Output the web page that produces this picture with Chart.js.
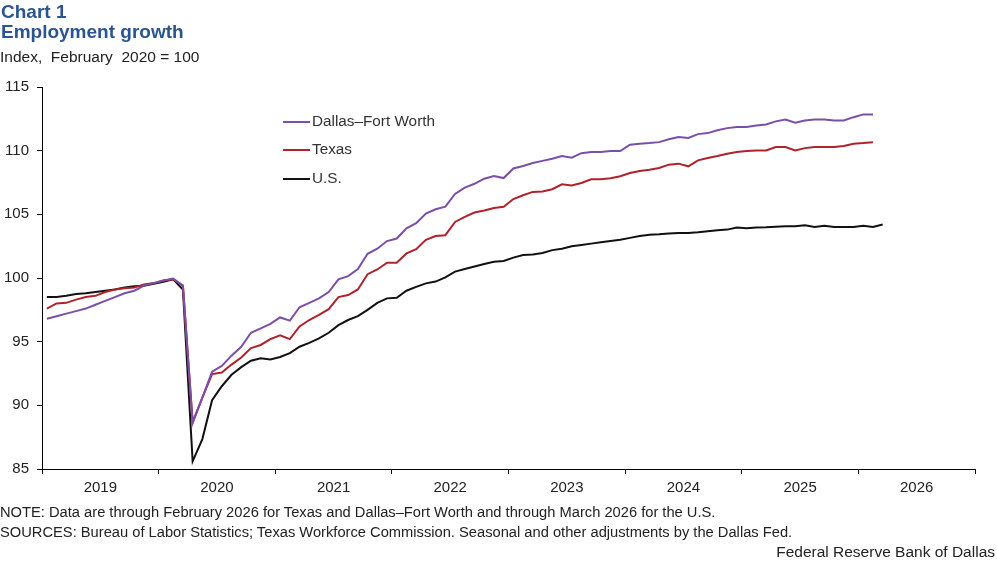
<!DOCTYPE html>
<html>
<head>
<meta charset="utf-8">
<script src="https://cdn.jsdelivr.net/npm/chart.js@4"></script>
<style>
  html, body { margin: 0; padding: 0; background: #fff; }
  body { width: 997px; height: 565px; position: relative; overflow: hidden; font-family: "Liberation Sans", Arial, sans-serif; color: #222; }
  #chart { position: absolute; left: 0; top: 0; }
  .t { position: absolute; white-space: nowrap; }
  .title { left: 1px; font-weight: bold; font-size: 19px; color: #2b5590; }
  .leg { position: absolute; left: 283px; font-size: 15.3px; color: #333; }
  .leg span { display: inline-block; width: 27px; height: 2px; vertical-align: middle; margin-right: 2px; }
</style>
</head>
<body>
<canvas id="chart" width="997" height="565"></canvas>
<div class="t title" style="top:1px">Chart 1</div>
<div class="t title" style="top:21px">Employment growth</div>
<div class="t" style="left:0; top:48px; font-size:15.5px">Index,&nbsp; February&nbsp; 2020 = 100</div>
<div id="legend"></div>
<div class="t" style="left:0; top:504px; font-size:14.7px">NOTE: Data are through February 2026 for Texas and Dallas–Fort Worth and through March 2026 for the U.S.</div>
<div class="t" style="left:0; top:524px; font-size:14.7px">SOURCES: Bureau of Labor Statistics; Texas Workforce Commission. Seasonal and other adjustments by the Dallas Fed.</div>
<div class="t" style="right:2px; top:543px; font-size:15.5px">Federal Reserve Bank of Dallas</div>
<script>
// Monthly index values, Jan 2019 onward (Feb 2020 = 100)
const years = ['2019', '2020', '2021', '2022', '2023', '2024', '2025', '2026'];

const dfw = [
  96.8, 97.0, 97.2, 97.4, 97.6, 97.9, 98.2, 98.5, 98.8, 99.0, 99.4, 99.6,
  99.8, 99.95, 99.4, 88.6, 90.6, 92.65, 93.1, 93.9, 94.6, 95.7, 96.05, 96.4,
  96.9, 96.65, 97.7, 98.05, 98.4, 98.9, 99.9, 100.15, 100.7, 101.9, 102.3, 102.9,
  103.1, 103.9, 104.3, 105.06, 105.4, 105.6, 106.6, 107.1, 107.4, 107.8, 108.0, 107.85,
  108.6, 108.8, 109.03, 109.2, 109.37, 109.58, 109.45, 109.8, 109.9, 109.9, 109.97, 109.97,
  110.47, 110.55, 110.6, 110.67, 110.9, 111.07, 111.0, 111.3, 111.38, 111.6, 111.77, 111.85,
  111.85, 111.98, 112.06, 112.3, 112.45, 112.2, 112.37, 112.45, 112.45, 112.37, 112.37, 112.63,
  112.85, 112.85
];

const texas = [
  97.6, 98.0, 98.05, 98.3, 98.5, 98.6, 98.9, 99.1, 99.2, 99.25, 99.5, 99.6,
  99.8, 99.9, 99.4, 88.7, 90.6, 92.45, 92.57, 93.2, 93.75, 94.5, 94.74, 95.2,
  95.5, 95.2, 96.2, 96.7, 97.1, 97.55, 98.5, 98.66, 99.1, 100.3, 100.67, 101.2,
  101.2, 101.93, 102.26, 103.0, 103.3, 103.36, 104.4, 104.8, 105.14, 105.3, 105.5, 105.6,
  106.2, 106.5, 106.76, 106.8, 106.97, 107.36, 107.26, 107.46, 107.75, 107.75, 107.83, 107.99,
  108.25, 108.4, 108.5, 108.64, 108.9, 108.98, 108.77, 109.24, 109.42, 109.58, 109.76, 109.89,
  109.97, 110.02, 110.02, 110.28, 110.28, 110.02, 110.2, 110.28, 110.28, 110.28, 110.36, 110.55,
  110.6, 110.67
];

const us = [
  98.5, 98.5, 98.6, 98.75, 98.8, 98.9, 99.0, 99.1, 99.25, 99.35, 99.4, 99.55,
  99.7, 99.9, 99.1, 85.6, 87.35, 90.4, 91.5, 92.4, 93.0, 93.5, 93.7, 93.6,
  93.8, 94.1, 94.6, 94.9, 95.25, 95.7, 96.3, 96.7, 97.0, 97.5, 98.05, 98.4,
  98.45, 99.0, 99.3, 99.58, 99.72, 100.05, 100.5, 100.7, 100.9, 101.1, 101.27, 101.33,
  101.6, 101.8, 101.85, 101.97, 102.19, 102.3, 102.5, 102.6, 102.7, 102.8, 102.9, 103.0,
  103.15, 103.3, 103.4, 103.44, 103.5, 103.54, 103.54, 103.6, 103.68, 103.75, 103.8, 103.96,
  103.9, 103.96, 103.98, 104.02, 104.07, 104.07, 104.14, 104.0, 104.1, 104.0, 104.0, 104.0,
  104.1, 104.0, 104.2
];

const seriesNames = ['Dallas–Fort Worth', 'Texas', 'U.S.'];
const seriesColors = ['#7b4fa8', '#b0222b', '#111111'];

// month i sits in the middle of its slot on a 0..96 month axis
function toPoints(arr) {
  return arr.map((v, i) => ({ x: i + 0.5, y: v }));
}

// simple legend, placed like the original
const legend = document.getElementById('legend');
seriesNames.forEach((name, k) => {
  const d = document.createElement('div');
  d.className = 'leg';
  d.style.top = (112 + k * 28.3) + 'px';
  d.innerHTML = '<span style="background:' + seriesColors[k] + '"></span>' + name;
  legend.appendChild(d);
});

const ctx = document.getElementById('chart').getContext('2d');
new Chart(ctx, {
  type: 'line',
  data: {
    datasets: [dfw, texas, us].map((arr, k) => ({
      label: seriesNames[k],
      data: toPoints(arr),
      borderColor: seriesColors[k],
      borderWidth: 2,
      pointRadius: 0,
      tension: 0,
      fill: false
    }))
  },
  options: {
    responsive: false,
    animation: false,
    devicePixelRatio: 1,
    layout: { padding: { top: 87, right: 22, bottom: 66, left: 0 } },
    plugins: { legend: { display: false }, tooltip: { enabled: false } },
    scales: {
      x: {
        type: 'linear',
        min: 0,
        max: years.length * 12,
        afterFit: s => { s.height = 30; },
        afterBuildTicks: s => {
          const t = [];
          for (let v = 0; v <= years.length * 12; v += 6) t.push({ value: v });
          s.ticks = t;
        },
        ticks: {
          autoSkip: false,
          maxRotation: 0,
          padding: 5,
          color: '#222',
          font: { family: 'Liberation Sans', size: 15 },
          callback: v => (v % 12 === 6 ? years[(v - 6) / 12] : '')
        },
        grid: {
          drawOnChartArea: false,
          tickLength: 5,
          color: c => (c.tick && c.tick.value % 12 === 0 ? '#000' : 'rgba(0,0,0,0)')
        },
        border: { display: true, color: '#000', width: 1 }
      },
      y: {
        min: 85,
        max: 115,
        afterFit: s => { s.width = 42; },
        ticks: {
          stepSize: 5,
          padding: 8,
          color: '#222',
          font: { family: 'Liberation Sans', size: 15 }
        },
        grid: { drawOnChartArea: false, tickLength: 5, color: '#000' },
        border: { display: true, color: '#000', width: 1 }
      }
    }
  }
});
</script>
</body>
</html>
